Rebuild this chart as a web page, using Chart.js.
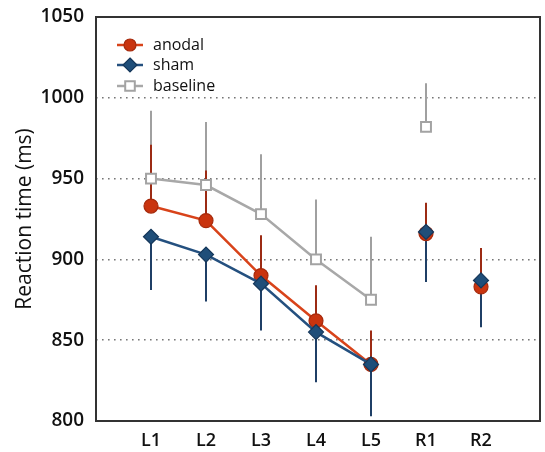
<!DOCTYPE html>
<html>
<head>
<meta charset="utf-8">
<script src="https://cdn.jsdelivr.net/npm/chart.js@4.4.1/dist/chart.umd.min.js"></script>
<style>
html,body{margin:0;padding:0;background:#fff;}
#wrap{width:545px;height:452px;position:relative;}
</style>
</head>
<body>
<div id="wrap"><canvas id="c" width="545" height="452"></canvas></div>
<script>
const categories = ['L1','L2','L3','L4','L5','R1','R2'];
const anodal      = [933, 924, 890, 862, 835, 916, 883];
const anodalErr   = [38, 31, 25, 22, 21, 19, 24];
const sham        = [914, 903, 885, 855, 835, 917, 887];
const shamErr     = [33, 29, 29, 31, 32, 31, 29];
const baseline    = [950, 946, 928, 900, 875, 982, null];
const baselineErr = [42, 39, 37, 37, 39, 27, null];
const yTicks = [800, 850, 900, 950, 1000, 1050];
const seriesNames = ['anodal', 'sham', 'baseline'];

const FONT = "'Open Sans', 'Liberation Sans', sans-serif";
const COL = {
  anodal: {line:'#d8431a', fill:'#c9340f', border:'#a62a0c', err:'#9c2b14'},
  sham: {line:'#24507f', fill:'#1f4e79', border:'#15375a', err:'#1f3f66'},
  baseline: {line:'#a8a8a8', fill:'#ffffff', border:'#a3a3a3', err:'#a0a0a0'}
};

function toPts(arr){ return arr.map((v,i)=>({x:i+1, y:v})); }
function seg(color){ return {borderColor: ctx => ctx.p0DataIndex >= 4 ? 'rgba(0,0,0,0)' : color}; }

const errPlugin = {
  id:'errbars',
  beforeDatasetsDraw(chart){
    const {ctx, scales:{x,y}} = chart;
    const sets = [
      {vals: baseline, errs: baselineErr, dir: 1, color: COL.baseline.err},
      {vals: anodal, errs: anodalErr, dir: 1, color: COL.anodal.err},
      {vals: sham, errs: shamErr, dir: -1, color: COL.sham.err}
    ];
    ctx.save();
    ctx.lineWidth = 2;
    sets.forEach(s=>{
      ctx.strokeStyle = s.color;
      s.vals.forEach((v,i)=>{
        if(v==null) return;
        const px = x.getPixelForValue(i+1);
        ctx.beginPath();
        ctx.moveTo(px, y.getPixelForValue(v));
        ctx.lineTo(px, y.getPixelForValue(v + s.dir*s.errs[i]));
        ctx.stroke();
      });
    });
    ctx.restore();
  }
};

function marker(ctx, kind, cx, cy, r){
  const c = COL[kind];
  ctx.beginPath();
  if(kind==='anodal'){ ctx.arc(cx,cy,r,0,Math.PI*2); }
  else if(kind==='sham'){ ctx.moveTo(cx,cy-r); ctx.lineTo(cx+r,cy); ctx.lineTo(cx,cy+r); ctx.lineTo(cx-r,cy); ctx.closePath(); }
  else { ctx.rect(cx-r*0.8, cy-r*0.8, r*1.6, r*1.6); }
  ctx.fillStyle = c.fill; ctx.fill();
  ctx.lineWidth = kind==='baseline'?2:1.2; ctx.strokeStyle = c.border; ctx.stroke();
}

const framePlugin = {
  id:'frame',
  afterDraw(chart){
    const {ctx, chartArea:a} = chart;
    ctx.save();
    ctx.strokeStyle = '#333333';
    ctx.lineWidth = 2;
    ctx.strokeRect(a.left, a.top, a.right - a.left + 4, a.bottom - a.top);
    const rows = [45, 65, 86];
    seriesNames.forEach((n,i)=>{
      const yy = rows[i];
      ctx.strokeStyle = COL[n].line; ctx.lineWidth = 2.5;
      ctx.beginPath(); ctx.moveTo(117,yy); ctx.lineTo(143,yy); ctx.stroke();
      marker(ctx, n, 130, yy, n==='sham'?7:6);
      ctx.fillStyle = '#111'; ctx.font = "16px " + FONT; ctx.textBaseline='middle'; ctx.textAlign='left';
      ctx.fillText(n, 153, yy);
    });
    ctx.restore();
  }
};

const chart = new Chart(document.getElementById('c'), {
  type:'line',
  data:{
    datasets:[
      {label:'anodal', data: toPts(anodal), order:1, borderColor:COL.anodal.line, borderWidth:2.5,
       pointStyle:'circle', pointRadius:7, pointBackgroundColor:COL.anodal.fill, pointBorderColor:COL.anodal.border, pointBorderWidth:1.2,
       segment: seg(COL.anodal.line), tension:0},
      {label:'sham', data: toPts(sham), order:0, borderColor:COL.sham.line, borderWidth:2.5,
       pointStyle:'rectRot', pointRadius:7.5, pointBackgroundColor:COL.sham.fill, pointBorderColor:COL.sham.border, pointBorderWidth:1.2,
       segment: seg(COL.sham.line), tension:0},
      {label:'baseline', data: toPts(baseline), order:2, borderColor:COL.baseline.line, borderWidth:2.5,
       pointStyle:'rect', pointRadius:7, pointBackgroundColor:'#ffffff', pointBorderColor:COL.baseline.border, pointBorderWidth:2,
       segment: seg(COL.baseline.line), spanGaps:false, tension:0}
    ]
  },
  options:{
    responsive:false, animation:false, maintainAspectRatio:false,
    layout:{padding:{top:17, right:0, left:0, bottom:0}},
    plugins:{legend:{display:false}, tooltip:{enabled:false}},
    scales:{
      x:{type:'linear', min:0, max:8,
        afterBuildTicks(s){ s.ticks = categories.map((c,i)=>({value:i+1})); },
        afterFit(s){ s.height = 31; s.paddingLeft = 0; s.paddingRight = 0; },
        ticks:{callback:(v)=>categories[v-1] ?? '', font:{family:FONT, size:18, weight:'600'}, color:'#111', padding:9, maxRotation:0, autoSkip:false},
        grid:{display:false, drawTicks:false}, border:{display:false}},
      y:{type:'linear', min:800, max:1050,
        afterBuildTicks(s){ s.ticks = yTicks.map(v=>({value:v})); },
        afterFit(s){ s.width = 96; s.paddingTop = 0; s.paddingBottom = 0; },
        ticks:{callback:(v)=>String(v), font:{family:FONT, size:19, weight:'600'}, color:'#111', padding:12},
        grid:{drawTicks:false, color: c => (c.tick && (c.tick.value===800 || c.tick.value===1050)) ? 'rgba(0,0,0,0)' : '#777', lineWidth:1.6},
        border:{display:false, dash:[1.6,4.4]},
        title:{display:true, text:'Reaction time (ms)', font:{family:FONT, size:21}, color:'#111', padding:{top:12,bottom:0}}}
    }
  },
  plugins:[errPlugin, framePlugin]
});
</script>
</body>
</html>
